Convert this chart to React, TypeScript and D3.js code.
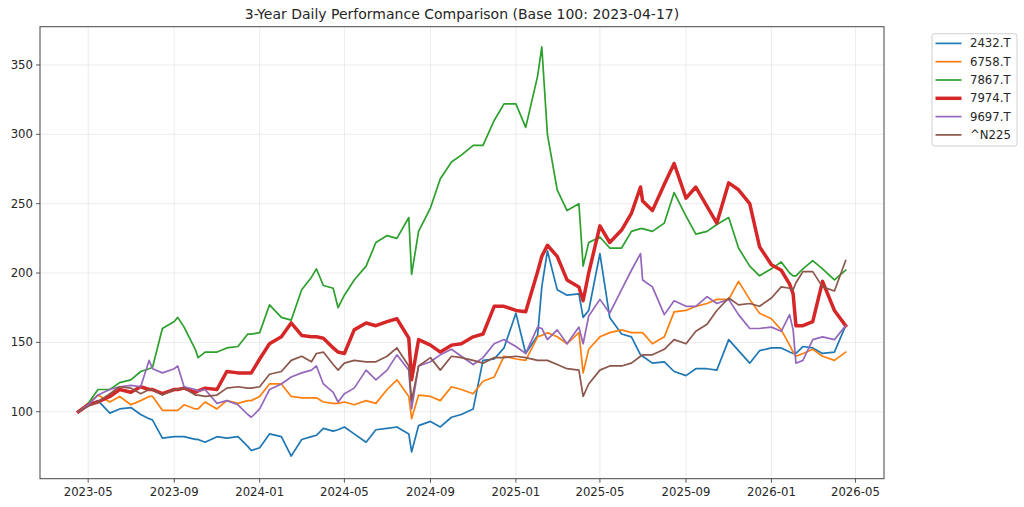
import React from 'react';
import * as d3 from 'd3';

const dates = [
  '2023-04-17','2023-05-01','2023-05-15','2023-06-01','2023-06-15','2023-07-01','2023-07-15','2023-07-27','2023-08-01','2023-08-15',
  '2023-09-01','2023-09-06','2023-09-15','2023-10-01','2023-10-05','2023-10-15','2023-11-01','2023-11-15','2023-12-01','2023-12-15',
  '2023-12-20','2024-01-01','2024-01-15','2024-02-01','2024-02-15','2024-03-01','2024-03-15','2024-03-22','2024-04-01','2024-04-15',
  '2024-04-22','2024-05-01','2024-05-15','2024-06-01','2024-06-15','2024-07-01','2024-07-15','2024-08-01','2024-08-05','2024-08-15',
  '2024-09-01','2024-09-15','2024-10-01','2024-10-15','2024-11-01','2024-11-15','2024-12-01','2024-12-15','2025-01-01','2025-01-15',
  '2025-02-01','2025-02-07','2025-02-15','2025-03-01','2025-03-15','2025-04-01','2025-04-07','2025-04-15','2025-05-01','2025-05-15',
  '2025-06-01','2025-06-15','2025-06-28','2025-07-01','2025-07-15','2025-08-01','2025-08-15','2025-09-01','2025-09-15','2025-10-01',
  '2025-10-15','2025-11-01','2025-11-15','2025-12-01','2025-12-15','2026-01-01','2026-01-15','2026-01-27','2026-02-01','2026-02-05',
  '2026-02-15','2026-03-01','2026-03-15','2026-04-01','2026-04-17',
];

const s2432 = [
  100,105,108,99,102,103,98,95,94,81,
  82,82,82,80,80,78,82,81,82,75,
  72,74,84,82,68,80,82,83,88,86,
  87,89,84,78,87,88,89,84,71,90,
  93,89,96,98,102,137,138,146,171,142,
  155,190,216,188,184,185,168,173,214,168,
  156,154,141,140,135,136,129,126,131,131,
  130,152,144,135,144,146,146,143,142,142,
  147,146,142,143,162,
];

const s6758 = [
  100,106,112,107,111,105,108,111,111,101,
  101,101,105,102,102,107,102,108,106,108,
  108,111,120,120,111,110,110,110,107,106,
  106,107,105,108,106,116,123,111,95,112,
  111,108,118,116,113,122,125,140,138,137,
  154,155,157,154,149,157,128,145,154,157,
  159,157,157,157,149,154,172,173,176,178,
  181,181,194,181,171,167,159,148,143,140,
  142,145,140,137,143,
];

const s7867 = [
  100,106,116,116,121,123,129,131,132,160,
  165,168,161,145,139,143,143,146,147,156,
  156,157,177,168,166,188,197,203,191,189,
  175,184,195,205,222,227,225,240,199,230,
  247,268,280,285,292,292,310,322,322,305,
  342,363,300,260,245,250,205,222,226,218,
  218,230,232,232,230,236,258,241,228,230,
  235,240,218,205,198,203,208,200,198,198,
  203,209,203,195,202,
];

const s7974 = [
  100,105,107,111,116,114,118,116,116,113,
  116,116,117,114,115,117,116,129,128,128,
  128,138,149,154,164,155,154,154,153,146,
  143,142,159,164,162,165,167,153,123,152,
  148,143,148,149,154,156,176,176,173,172,
  201,212,220,212,195,190,180,200,234,222,
  231,243,262,252,245,264,279,254,262,248,
  236,265,260,250,219,206,202,192,185,162,
  162,165,194,173,162,
];

const s9697 = [
  100,105,112,116,118,119,118,137,131,128,
  131,133,118,116,115,116,106,108,105,98,
  96,102,116,120,125,128,130,133,120,114,
  107,113,117,130,123,130,141,130,102,133,
  136,141,145,140,134,139,149,152,147,142,
  161,160,152,159,149,161,149,169,181,171,
  188,202,214,195,190,170,180,176,176,183,
  178,181,170,160,160,161,158,170,159,135,
  137,152,154,152,162,
];

const sN225 = [
  100,104,107,113,118,117,113,116,116,112,
  116,116,117,112,112,111,112,117,118,117,
  117,118,127,129,137,140,136,142,143,134,
  130,135,137,136,136,140,146,133,108,133,
  139,130,140,139,137,135,139,139,140,139,
  137,137,137,134,131,130,111,120,130,133,
  133,135,140,141,141,145,152,149,158,163,
  173,182,177,178,176,182,190,189,188,193,
  201,201,190,187,209,
];

const seriesNames = ['2432.T', '6758.T', '7867.T', '7974.T', '9697.T', '^N225'];
const seriesValues = [s2432, s6758, s7867, s7974, s9697, sN225];
const seriesColors = ['#1f77b4', '#ff7f0e', '#2ca02c', '#d62728', '#9467bd', '#8c564b'];
const seriesWidths = [1.7, 1.7, 1.7, 3.5, 1.7, 1.7];

const yTicks = [100, 150, 200, 250, 300, 350];
const xTickLabels = ['2023-05', '2023-09', '2024-01', '2024-05', '2024-09', '2025-01', '2025-05', '2025-09', '2026-01', '2026-05'];
const titleText = '3-Year Daily Performance Comparison (Base 100: 2023-04-17)';

const FONT = '"DejaVu Sans", sans-serif';

export default function App() {
  const W = 1024;
  const H = 507;
  const m = { left: 40, right: 884, top: 26.7, bottom: 478.7 };

  const parse = d3.utcParse('%Y-%m-%d');
  const t = dates.map((d) => parse(d) as Date);
  const t0 = +t[0];
  const t1 = +t[t.length - 1];
  const span = t1 - t0;

  const x = d3
    .scaleUtc()
    .domain([new Date(t0 - span * 0.05), new Date(t1 + span * 0.05)])
    .range([m.left, m.right]);
  const y = d3.scaleLinear().domain([51.7, 377.6]).range([m.bottom, m.top]);

  const line = d3
    .line<number>()
    .defined((_, i) => i < t.length)
    .x((_, i) => x(t[i]))
    .y((v) => y(v))
    .curve(d3.curveLinear);

  const xTicks = xTickLabels.map((s) => parse(s + '-01') as Date);

  const legendX = 932;
  const legendY = 33.7;
  const rowH = 18.3;

  return (
    <svg
      width={W}
      height={H}
      viewBox={`0 0 ${W} ${H}`}
      style={{ position: 'fixed', left: 0, top: 0, background: '#fff' }}
      fontFamily={FONT}
    >
      <rect x={0} y={0} width={W} height={H} fill="#fff" />
      {/* grid */}
      <g stroke="#b0b0b0" strokeOpacity={0.3} strokeWidth={0.8}>
        {xTicks.map((d, i) => (
          <line key={'gx' + i} x1={x(d)} x2={x(d)} y1={m.top} y2={m.bottom} />
        ))}
        {yTicks.map((v, i) => (
          <line key={'gy' + i} x1={m.left} x2={m.right} y1={y(v)} y2={y(v)} />
        ))}
      </g>

      {/* series */}
      <g fill="none" strokeLinejoin="round" strokeLinecap="square">
        {seriesValues.map((vals, i) => (
          <path key={seriesNames[i]} d={line(vals) || ''} stroke={seriesColors[i]} strokeWidth={seriesWidths[i]} />
        ))}
      </g>

      {/* spines */}
      <rect x={m.left} y={m.top} width={m.right - m.left} height={m.bottom - m.top} fill="none" stroke="#444" strokeWidth={1} />

      {/* y axis ticks */}
      <g fontSize={11.7} fill="#262626">
        {yTicks.map((v) => (
          <g key={'yt' + v}>
            <line x1={m.left - 4} x2={m.left} y1={y(v)} y2={y(v)} stroke="#444" strokeWidth={0.9} />
            <text x={m.left - 7} y={y(v)} dy="0.35em" textAnchor="end">
              {v}
            </text>
          </g>
        ))}
      </g>

      {/* x axis ticks */}
      <g fontSize={11.7} fill="#262626">
        {xTicks.map((d, i) => (
          <g key={'xt' + i}>
            <line x1={x(d)} x2={x(d)} y1={m.bottom} y2={m.bottom + 4} stroke="#444" strokeWidth={0.9} />
            <text x={x(d)} y={m.bottom + 17.5} textAnchor="middle">
              {xTickLabels[i]}
            </text>
          </g>
        ))}
      </g>

      {/* title */}
      <text x={(m.left + m.right) / 2} y={19} textAnchor="middle" fontSize={14} fill="#262626">
        {titleText}
      </text>

      {/* legend */}
      <rect x={legendX} y={legendY} width={85} height={112.3} rx={2.5} fill="#fff" stroke="#d0d0d0" strokeWidth={1} />
      {seriesNames.map((n, i) => {
        const yy = legendY + 9.7 + i * rowH;
        return (
          <g key={'lg' + n}>
            <line x1={legendX + 3.5} x2={legendX + 29.5} y1={yy} y2={yy} stroke={seriesColors[i]} strokeWidth={seriesWidths[i]} />
            <text x={legendX + 38} y={yy} dy="0.35em" fontSize={11.7} fill="#262626">
              {n}
            </text>
          </g>
        );
      })}
    </svg>
  );
}
